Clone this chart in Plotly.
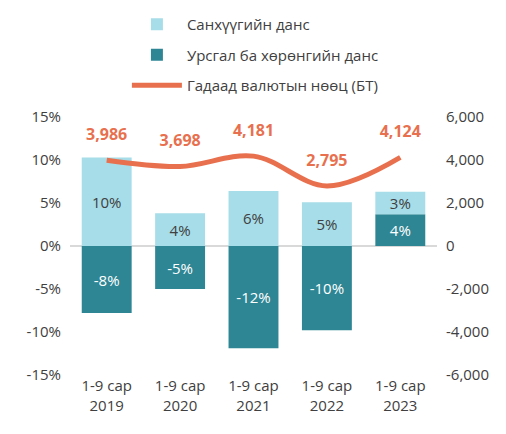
import plotly.graph_objects as go

categories = ["1-9 сар<br>2019", "1-9 сар<br>2020", "1-9 сар<br>2021", "1-9 сар<br>2022", "1-9 сар<br>2023"]
financial_account = [10.3, 3.8, 6.4, 5.1, 2.6]
current_capital_account = [-7.8, -5.0, -11.9, -9.8, 3.7]
reserves = [3986, 3698, 4181, 2795, 4124]
pct_ticks = [-15, -10, -5, 0, 5, 10, 15]
res_ticks = [-6000, -4000, -2000, 0, 2000, 4000, 6000]

FONT = "Open Sans"


def pct_label(v):
    return f"{round(v):d}%".replace("−", "-")


def num_label(v):
    return f"{v:,}"


fig = go.Figure()

fig.add_trace(go.Bar(
    x=categories, y=current_capital_account, name="Урсгал ба хөрөнгийн данс",
    marker=dict(color="#2E8694", line=dict(width=0)),
    text=[pct_label(v) for v in current_capital_account], textposition="inside",
    insidetextanchor="middle", constraintext="none",
    textfont=dict(color="#FFFFFF", size=15, family=FONT), legendrank=2, legendgroup="b",
))
fig.add_trace(go.Bar(
    x=categories, y=financial_account, name="Санхүүгийн данс",
    marker=dict(color="#A6DDE8", line=dict(width=0)),
    text=[pct_label(v) for v in financial_account], textposition="inside",
    insidetextanchor="middle", constraintext="none",
    textfont=dict(color="#404040", size=15, family=FONT), legendrank=1, legendgroup="a",
))
fig.add_trace(go.Scatter(
    x=categories, y=reserves, name="Гадаад валютын нөөц (БТ)", yaxis="y2",
    mode="lines+markers+text", line=dict(color="#E8704E", width=5, shape="spline", smoothing=1.0),
    marker=dict(size=24, color="rgba(0,0,0,0)"),
    text=[num_label(v) for v in reserves], textposition="top center",
    textfont=dict(color="#E8704E", size=16, family=FONT, weight="bold"), legendrank=3,
    legendgroup="c", cliponaxis=False,
))

fig.update_layout(
    width=506, height=434,
    margin=dict(l=62, r=77, t=109, b=67, autoexpand=False),
    paper_bgcolor="white", plot_bgcolor="white",
    barmode="relative", bargap=0.32,
    font=dict(family=FONT, size=15, color="#404040"),
    showlegend=True,
    legend=dict(x=0.235, y=1.0, xref="container", yref="container",
                xanchor="left", yanchor="top", orientation="v",
                font=dict(size=15, color="#404040"), itemwidth=50, tracegroupgap=8,
                bgcolor="rgba(0,0,0,0)", traceorder="grouped"),
    xaxis=dict(showgrid=False, showline=False, ticks="", tickfont=dict(size=15)),
    yaxis=dict(range=[-15, 15], tickvals=pct_ticks, ticktext=[pct_label(v) for v in pct_ticks],
               showgrid=False, zeroline=True, zerolinecolor="#D9D9D9", zerolinewidth=1.5,
               showline=False, tickfont=dict(size=15), ticklabelstandoff=8),
    yaxis2=dict(range=[-6000, 6000], tickvals=res_ticks, ticktext=[num_label(v) for v in res_ticks],
                overlaying="y", side="right",
                showgrid=False, zeroline=False, showline=False,
                tickfont=dict(size=15), ticklabelstandoff=8),
)

fig.write_html("out.html")
